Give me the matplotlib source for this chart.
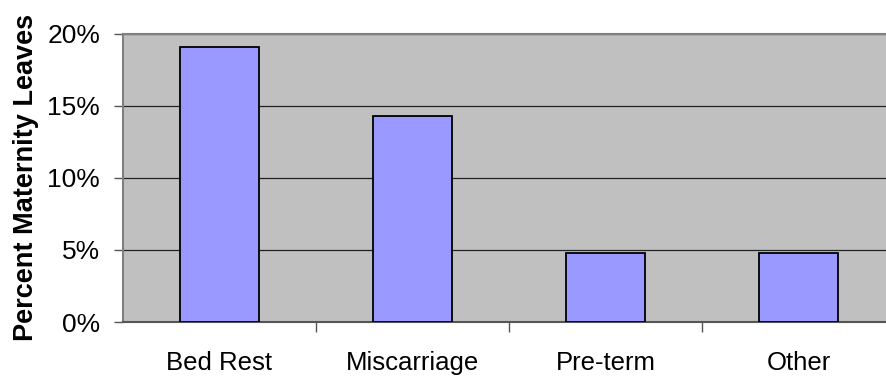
import matplotlib.pyplot as plt
from matplotlib.ticker import FuncFormatter

# share of maternity leaves by reason (percent)
reasons = ["Bed Rest", "Miscarriage", "Pre-term", "Other"]
percent = [19.05, 14.29, 4.76, 4.76]
y_ticks = [0, 5, 10, 15, 20]

plt.rcParams['font.family'] = ['Liberation Sans', 'DejaVu Sans']

fig = plt.figure(figsize=(8.86, 3.79), dpi=100)
# plot area runs a little past the right edge of the figure
ax = fig.add_axes([123 / 886, 57 / 379, 772 / 886, 288.5 / 379])
ax.set_facecolor('#C0C0C0')

x = range(len(reasons))
ax.bar(x, percent, width=0.41, color='#9999FF', edgecolor='black',
       linewidth=1.3, zorder=3)

ax.set_xlim(-0.5, len(reasons) - 0.5)
ax.set_ylim(0, 20)
ax.set_yticks(y_ticks)
ax.yaxis.set_major_formatter(FuncFormatter(lambda v, _: f"{v:.0f}%"))
ax.yaxis.grid(True, color='#222222', linewidth=0.9, zorder=1)

# category labels centred, tick marks between categories
ax.set_xticks(list(x))
ax.set_xticklabels(reasons)
ax.set_xticks([i + 0.5 for i in range(len(reasons) - 1)], minor=True)
ax.tick_params(axis='x', which='major', length=0, pad=21, labelsize=18.5)
ax.tick_params(axis='x', which='minor', length=7, width=1, color='#555555')
ax.tick_params(axis='y', length=6.5, width=1, color='#555555', labelsize=19, pad=10)

for side in ('top', 'left'):
    ax.spines[side].set_color('#808080')
    ax.spines[side].set_linewidth(1.5)
ax.spines['bottom'].set_color('#555555')
ax.spines['bottom'].set_linewidth(1.5)
ax.spines['right'].set_visible(False)

ax.set_ylabel("Percent Maternity Leaves", fontsize=19.5, fontweight='bold',
              labelpad=6)

fig.savefig('out.png', dpi=100)
